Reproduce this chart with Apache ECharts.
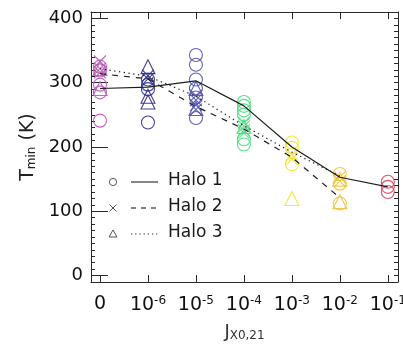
<!DOCTYPE html>
<html><head><meta charset="utf-8">
<script src="https://cdn.jsdelivr.net/npm/echarts@6/dist/echarts.min.js"></script>
<style>html,body{margin:0;padding:0;background:#fff}#chart{width:403px;height:344px}</style>
</head><body><div id="chart"></div>
<script>
// Radiation-field categories along x (index positions 0..6)
const tickLabels = ['0', '10{sup|-6}', '10{sup|-5}', '10{sup|-4}', '10{sup|-3}', '10{sup|-2}', '10{sup|-1}'];
const categoryColors = ['#bb55bb', '#2c2c8c', '#5252b4', '#4ddc80', '#f4e22c', '#f0c23c', '#e04058'];
const yTicks = [0, 100, 200, 300, 400];

// Individual runs, one list per category
const halo1Points = [
  [325, 319, 297, 285, 241],
  [305, 297, 290, 238],
  [343, 328, 305, 291, 277, 245],
  [270, 264, 257, 250, 212, 204],
  [207, 199, 173],
  [158, 143, 112],
  [146, 138, 130]
];
const halo2Points = [
  [333, 322, 316],
  [311, 306],
  [280, 273, 265, 258],
  [238, 232, 226, 222],
  [188, 181],
  [153, 147],
  []
];
const halo3Points = [
  [322, 291],
  [325, 279, 270],
  [291, 260],
  [232],
  [120],
  [115, 150],
  []
];

// Representative T_min per category for each halo
const halo1Line = [291, 293, 303, 264, 200, 153, 138];
const halo2Line = [314, 306, 263, 228, 184, 121];
const halo3Line = [322, 310, 279, 233, 192, 155];

const axisColor = '#2a2a2a';
const font = 'DejaVu Sans';

function pointsToData(lists) {
  const out = [];
  lists.forEach((vals, i) => vals.forEach(v => out.push({
    value: [i, v],
    itemStyle: { borderColor: categoryColors[i] }
  })));
  return out;
}
function lineData(vals) { return vals.map((v, i) => [i, v]); }

const crossPath = 'path://M0,0L10,10M10,0L0,10';
const markerStyle = { color: 'rgba(0,0,0,0)', borderWidth: 1.1, opacity: 0.9 };

const xCommon = {
  type: 'value', min: -0.1875, max: 6.2125,
  splitLine: { show: false },
  axisLine: { show: true, onZero: false, lineStyle: { color: axisColor, width: 1 } },
  axisTick: { show: true, inside: true, length: 7, customValues: [0, 1, 2, 3, 4, 5, 6], lineStyle: { color: axisColor } }
};
const yMinor = {
  type: 'value', min: -10, max: 410, interval: 10,
  splitLine: { show: false },
  axisLine: { show: true, onZero: false, lineStyle: { color: axisColor, width: 1 } },
  axisTick: { show: true, inside: true, length: 4, lineStyle: { color: axisColor } },
  axisLabel: { show: false }
};
const yMajor = {
  type: 'value', min: -10, max: 410, interval: 10,
  splitLine: { show: false },
  axisLine: { show: false },
  axisTick: { show: true, inside: true, length: 8, customValues: yTicks, lineStyle: { color: axisColor } },
  axisLabel: { show: false }
};

const legendRows = [
  { y: 182, label: 'Halo 1', dash: null, sym: 'circle' },
  { y: 208, label: 'Halo 2', dash: [5, 5], sym: 'cross' },
  { y: 234, label: 'Halo 3', dash: [1.2, 3], sym: 'triangle' }
];
const legendGraphics = [];
legendRows.forEach(r => {
  if (r.sym === 'circle') {
    legendGraphics.push({ type: 'circle', shape: { cx: 113, cy: r.y, r: 3.6 }, style: { fill: 'none', stroke: '#555', lineWidth: 1 } });
  } else if (r.sym === 'cross') {
    legendGraphics.push({ type: 'line', shape: { x1: 109.5, y1: r.y - 3.5, x2: 116.5, y2: r.y + 3.5 }, style: { stroke: '#555', lineWidth: 1 } });
    legendGraphics.push({ type: 'line', shape: { x1: 109.5, y1: r.y + 3.5, x2: 116.5, y2: r.y - 3.5 }, style: { stroke: '#555', lineWidth: 1 } });
  } else {
    legendGraphics.push({ type: 'polygon', shape: { points: [[113, r.y - 4], [117, r.y + 3], [109, r.y + 3]] }, style: { fill: 'none', stroke: '#555', lineWidth: 1 } });
  }
  legendGraphics.push({ type: 'line', shape: { x1: 131, y1: r.y, x2: 158, y2: r.y }, style: { stroke: '#222', lineWidth: 1.1, lineDash: r.dash } });
  legendGraphics.push({ type: 'text', left: 168, top: r.y - 10, style: { text: r.label, fill: '#1a1a1a', font: '17px "DejaVu Sans"' } });
});

const chart = echarts.init(document.getElementById('chart'), null, { renderer: 'canvas' });
chart.setOption({
  animation: false,
  backgroundColor: '#ffffff',
  grid: { left: 91, right: 5, top: 12, bottom: 62, outerBoundsMode: 'none' },
  xAxis: [
    Object.assign({}, xCommon, {
      position: 'bottom',
      axisLabel: {
        show: true, customValues: [0, 1, 2, 3, 4, 5, 6], margin: 13,
        formatter: v => tickLabels[v],
        color: '#111', fontFamily: font, fontSize: 19,
        rich: { sup: { fontSize: 12, fontFamily: font, color: '#111', verticalAlign: 'top', padding: [0, 0, 8, 0] } }
      },
      name: '{j|J}{sub|X0,21}', nameLocation: 'middle', nameGap: 40,
      nameTextStyle: {
        color: '#333', fontFamily: font,
        rich: { j: { fontSize: 18, fontFamily: font, color: '#333' }, sub: { fontSize: 12, fontFamily: font, color: '#333', verticalAlign: 'bottom', padding: [8, 0, 0, 0] } }
      }
    }),
    Object.assign({}, xCommon, { position: 'top', axisLabel: { show: false } })
  ],
  yAxis: [
    Object.assign({}, yMinor, { position: 'left' }),
    Object.assign({}, yMajor, {
      position: 'left',
      axisLabel: { show: true, customValues: yTicks, color: '#111', fontFamily: font, fontSize: 18, margin: 8 },
      name: '{t|T}{sub|min}{t| (K)}', nameLocation: 'middle', nameGap: 52, nameRotate: 90,
      nameTextStyle: {
        color: '#222', fontFamily: font,
        rich: { t: { fontSize: 19, fontFamily: font, color: '#222' }, sub: { fontSize: 12, fontFamily: font, color: '#222', verticalAlign: 'bottom', padding: [8, 0, 0, 0] } }
      }
    }),
    Object.assign({}, yMinor, { position: 'right' }),
    Object.assign({}, yMajor, { position: 'right' })
  ],
  graphic: legendGraphics,
  series: [
    { type: 'scatter', name: 'Halo 1', xAxisIndex: 0, yAxisIndex: 0, symbol: 'circle', symbolSize: 13, itemStyle: markerStyle, data: pointsToData(halo1Points), z: 2 },
    { type: 'scatter', name: 'Halo 2', xAxisIndex: 0, yAxisIndex: 0, symbol: crossPath, symbolSize: 12, itemStyle: markerStyle, data: pointsToData(halo2Points), z: 2 },
    { type: 'scatter', name: 'Halo 3', xAxisIndex: 0, yAxisIndex: 0, symbol: 'triangle', symbolSize: 14, itemStyle: markerStyle, data: pointsToData(halo3Points), z: 2 },
    { type: 'line', xAxisIndex: 0, yAxisIndex: 0, data: lineData(halo1Line), symbol: 'none', lineStyle: { color: '#1e1e1e', width: 1.2, type: 'solid' }, z: 3 },
    { type: 'line', xAxisIndex: 0, yAxisIndex: 0, data: lineData(halo2Line), symbol: 'none', lineStyle: { color: '#1e1e1e', width: 1.2, type: [6, 6] }, z: 3 },
    { type: 'line', xAxisIndex: 0, yAxisIndex: 0, data: lineData(halo3Line), symbol: 'none', lineStyle: { color: '#1e1e1e', width: 1.2, type: [1.3, 3.5] }, z: 3 }
  ]
});
</script>
</body></html>
